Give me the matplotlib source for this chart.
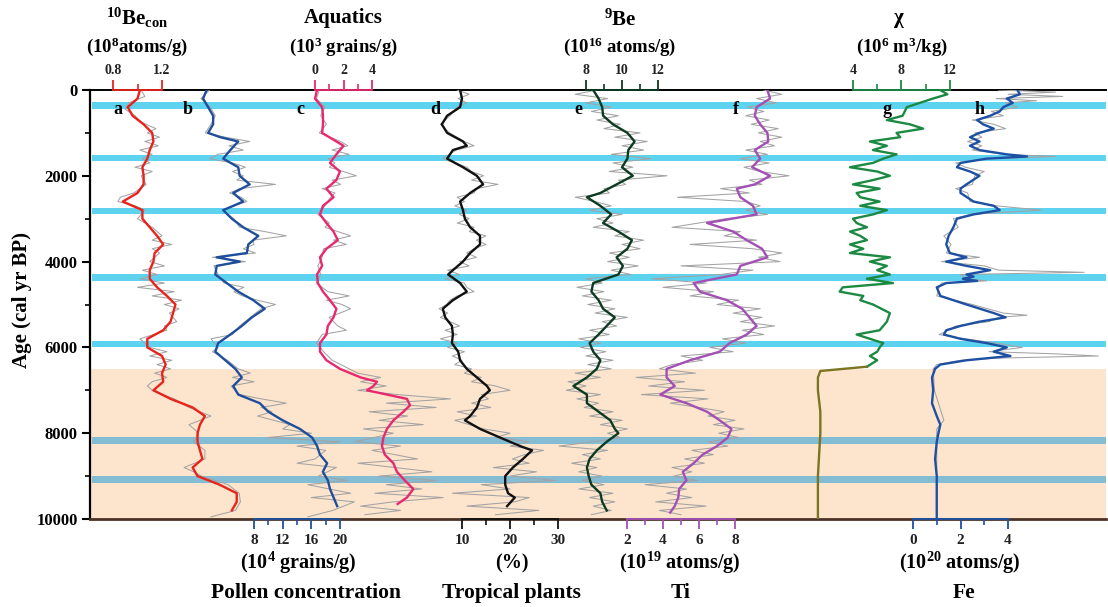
import matplotlib.pyplot as plt

plt.rcParams['font.family'] = ['Liberation Serif', 'DejaVu Serif']
plt.rcParams['font.weight'] = 'bold'
plt.rcParams['mathtext.fontset'] = 'custom'
plt.rcParams['mathtext.rm'] = 'Liberation Serif:bold'
plt.rcParams['mathtext.bf'] = 'Liberation Serif:bold'
plt.rcParams['mathtext.it'] = 'Liberation Serif:bold:italic'
plt.rcParams['mathtext.default'] = 'bf'

# ---------------- data (age in cal yr BP) ----------------
a_age = [0,200,400,600,800,1000,1200,1400,1600,1800,2000,2200,2400,2600,2800,3000,3200,3400,3600,3800,
         4000,4200,4400,4600,4800,5000,5200,5400,5600,5800,6000,6200,6400,6600,6800,7000,7200,7400,7600,7800,
         8000,8200,8400,8600,8800,9000,9200,9400,9600,9800]
a_val = [1.02,1.00,0.92,0.96,1.05,1.12,1.13,1.10,1.08,1.04,1.05,1.05,1.00,0.88,1.04,1.04,1.10,1.16,1.21,1.14,
         1.13,1.10,1.10,1.16,1.24,1.31,1.29,1.27,1.21,1.08,1.08,1.20,1.23,1.20,1.21,1.13,1.27,1.45,1.55,1.51,
         1.49,1.49,1.51,1.53,1.45,1.49,1.67,1.81,1.81,1.77]
a_raw = [(0,1.03),(150,1.06),(300,0.93),(450,0.90),(600,0.98),(750,1.03),(900,1.15),(1000,1.08),(1100,1.18),
         (1200,1.06),(1300,1.17),(1400,1.02),(1500,1.12),(1600,1.04),(1700,1.10),(1800,0.98),(1900,1.12),
         (2000,1.03),(2200,1.07),(2400,0.97),(2500,0.86),(2600,0.84),(2700,0.98),(2800,1.06),(3000,1.00),
         (3200,1.12),(3400,1.20),(3500,1.12),(3600,1.28),(3700,1.12),(3800,1.18),(4000,1.10),(4100,1.22),
         (4200,1.04),(4300,1.16),(4400,1.02),(4500,1.22),(4600,1.00),(4700,1.30),(4800,1.12),(4900,1.36),
         (5000,1.22),(5100,1.34),(5200,1.26),(5400,1.32),(5500,1.22),(5600,1.24),(5800,1.02),(6000,1.10),
         (6100,1.24),(6200,1.10),(6300,1.28),(6400,1.16),(6500,1.27),(6600,1.14),(6700,1.24),(6800,1.12),
         (6900,1.08),(7000,1.12),(7200,1.30),(7400,1.42),(7600,1.60),(7800,1.42),(8000,1.50),(8200,1.46),
         (8400,1.55),(8600,1.55),(8800,1.38),(8900,1.46),(9000,1.52),(9200,1.74),(9400,1.83),(9600,1.84),
         (9800,1.80),(9950,1.60)]

b_age = [0,200,400,600,800,1000,1100,1200,1400,1600,1800,2000,2200,2400,2600,2800,3000,3200,3400,3600,
         3800,3900,4000,4100,4300,4500,4700,4900,5100,5300,5500,5700,5900,6100,6300,6500,6700,6900,7100,7300,
         7500,7700,7900,8100,8300,8500,8700,8900,9100,9300,9700]
b_val = [1.4,0.9,1.6,2.3,2.3,1.6,3.3,5.8,4.7,3.7,5.8,6.0,7.4,5.1,6.5,3.7,4.9,6.5,8.6,7.2,
         7.0,2.8,6.0,2.8,2.6,4.2,5.8,7.9,9.5,7.7,6.3,4.7,3.0,2.6,4.0,5.4,6.3,5.1,5.8,8.8,
         10.0,12.0,14.4,16.1,16.8,17.2,18.2,17.6,18.3,18.6,19.6]
b_raw = [(0,1.8),(200,0.6),(400,1.9),(600,2.6),(800,2.0),(1000,1.2),(1100,4.0),(1200,7.4),(1300,4.5),
         (1400,6.5),(1500,3.0),(1600,1.8),(1700,5.0),(1800,6.8),(1900,5.0),(2000,6.5),(2100,5.6),(2200,11.0),
         (2300,6.0),(2400,4.6),(2500,6.2),(2600,7.0),(2800,3.6),(3000,5.2),(3200,6.0),(3300,9.5),(3400,12.5),
         (3500,7.8),(3600,8.0),(3700,6.5),(3800,8.2),(3900,2.2),(4000,6.8),(4100,2.4),(4300,3.0),(4500,3.8),
         (4600,6.6),(4700,5.2),(4800,6.4),(4900,8.5),(5000,11.0),(5100,9.0),(5300,7.5),(5500,6.0),(5700,5.0),
         (5800,2.0),(6000,3.0),(6100,2.2),(6300,4.3),(6500,5.8),(6600,7.5),(6700,5.0),(6800,8.0),(6900,4.8),
         (7100,6.0),(7200,9.0),(7300,12.5),(7400,9.0),(7500,10.5),(7600,8.5),(7800,13.0),(7900,12.0),
         (8000,16.0),(8100,10.0),(8200,20.0),(8300,14.0),(8400,18.0),(8600,16.5),(8700,14.0),(8800,19.5),
         (9000,17.0),(9100,21.0),(9200,15.5),(9400,21.5),(9500,16.0),(9600,22.0),(9800,19.0),(9950,15.5)]

c_age = [0,200,400,600,800,1000,1200,1300,1500,1700,1900,2100,2300,2500,2700,2900,3100,3300,3500,3700,
         3900,4100,4300,4500,4700,4900,5100,5300,5500,5700,5900,6100,6300,6500,6700,6800,6900,7000,7200,7350,
         7500,7700,7900,8100,8300,8500,8700,8900,9100,9300,9500,9650]
c_val = [0.14,0.0,0.5,0.56,0.56,0.5,1.5,2.0,1.5,1.05,1.75,1.5,0.8,1.3,0.56,0.35,0.8,1.3,1.6,0.8,
         0.35,0.5,0.14,0.2,0.56,1.05,1.5,1.3,0.9,0.8,0.35,0.35,0.8,1.75,3.2,4.35,4.1,3.65,6.45,6.67,
         6.2,5.5,5.05,4.8,4.7,4.9,5.5,5.75,6.3,6.9,6.45,5.8]
c_raw = [(0,0.3),(200,0.1),(400,0.7),(600,0.4),(800,0.8),(1000,0.3),(1200,1.8),(1300,2.3),(1400,1.2),
         (1500,2.4),(1600,0.9),(1700,1.4),(1800,1.0),(1900,2.0),(2000,2.9),(2100,1.2),(2200,1.8),(2300,0.5),
         (2400,1.4),(2500,1.1),(2700,0.7),(2900,0.2),(3100,1.0),(3200,0.7),(3300,1.6),(3400,2.5),(3500,1.3),
         (3600,2.2),(3700,0.6),(3900,0.5),(4100,0.2),(4300,0.4),(4500,0.1),(4700,0.9),(4800,2.4),(4900,0.8),
         (5000,1.9),(5100,2.5),(5300,1.0),(5500,1.6),(5600,2.2),(5700,0.5),(5900,0.1),(6100,0.6),(6300,1.2),
         (6500,2.4),(6600,3.0),(6700,4.6),(6800,3.2),(6900,5.0),(7000,3.0),(7100,5.8),(7200,9.5),(7300,5.0),
         (7400,8.5),(7500,3.8),(7600,6.5),(7700,4.5),(7800,7.6),(7900,3.4),(8000,5.5),(8200,2.8),(8300,6.0),
         (8400,4.0),(8600,7.2),(8700,3.0),(8900,8.2),(9000,4.5),(9100,8.5),(9200,5.0),(9300,7.5),(9400,4.2),
         (9500,9.0),(9600,5.5),(9700,3.2),(9800,6.0),(9900,3.5)]

d_age = [0,200,400,600,800,1000,1200,1300,1400,1600,1800,2000,2200,2400,2600,2800,3000,3200,3400,3600,
         3800,4000,4200,4300,4500,4700,4900,5100,5300,5500,5700,5900,6100,6300,6500,6700,6900,7000,7200,7400,
         7600,7700,7900,8100,8300,8400,8600,8800,9000,9200,9400,9500,9700]
d_val = [9.6,10.0,9.6,6.9,5.8,6.9,10.2,11.0,8.1,6.9,10.2,13.1,14.4,11.7,9.6,10.2,10.6,11.7,13.75,13.75,
         11.7,10.2,8.1,7.1,9.6,11.0,8.1,6.0,6.5,7.9,8.1,7.9,9.2,9.6,11.0,13.1,15.2,15.8,13.75,13.1,
         11.7,10.6,13.75,17.9,22.1,24.6,22.7,20.6,19.0,19.0,19.6,21.0,19.4]
d_raw = [(0,9.0),(100,11.5),(200,9.2),(300,11.0),(400,9.0),(600,7.5),(800,5.5),(1000,7.4),(1200,10.5),
         (1300,12.5),(1400,8.8),(1600,6.0),(1700,8.5),(1800,11.0),(1900,12.0),(2000,14.5),(2100,12.0),
         (2200,17.5),(2300,13.0),(2400,12.5),(2500,9.0),(2600,10.5),(2700,8.5),(2800,11.0),(2900,9.5),
         (3000,11.5),(3100,9.0),(3200,12.5),(3300,11.5),(3400,15.0),(3500,13.0),(3600,15.0),(3700,12.5),
         (3800,11.0),(3900,13.0),(4000,9.5),(4100,11.5),(4200,7.0),(4300,9.5),(4400,6.5),(4500,10.5),
         (4600,11.0),(4700,12.5),(4800,9.0),(4900,7.5),(5000,6.8),(5100,5.2),(5200,7.0),(5300,5.5),(5400,7.5),
         (5500,9.5),(5600,6.5),(5700,9.0),(5800,5.5),(5900,9.0),(6000,7.0),(6100,10.5),(6200,8.0),(6300,10.0),
         (6400,8.5),(6500,12.0),(6600,10.5),(6700,14.0),(6800,12.0),(6900,17.0),(7000,20.0),(7100,14.0),
         (7200,15.5),(7300,12.0),(7400,16.0),(7500,9.0),(7600,13.0),(7700,8.5),(7800,11.5),(7900,14.5),
         (8000,20.0),(8100,17.0),(8200,24.0),(8300,20.0),(8400,27.0),(8500,23.0),(8600,20.5),(8700,24.0),
         (8800,16.5),(8900,25.5),(9000,20.0),(9100,29.5),(9200,14.0),(9300,20.0),(9400,8.0),(9500,24.0),
         (9600,21.0),(9700,11.0),(9800,26.0),(9900,17.0)]

e_age = [0,200,400,600,800,1000,1200,1400,1600,1800,2000,2200,2400,2500,2700,2900,3100,3300,3500,3700,
         3900,4100,4300,4500,4700,4900,5100,5300,5500,5700,5900,6100,6300,6500,6700,6900,7100,7300,7500,7700,
         7900,8000,8200,8400,8600,8800,9000,9200,9400,9600,9800]
e_val = [8.4,8.7,8.9,8.95,9.5,10.3,10.7,10.35,10.3,10.0,10.6,9.7,8.8,8.05,8.8,9.4,8.95,9.8,10.55,10.3,
         9.7,10.05,9.8,8.4,8.3,8.7,8.95,9.6,9.15,8.7,8.2,8.4,8.8,8.6,8.05,7.3,8.05,8.05,8.7,9.35,
         9.6,9.8,9.15,8.6,8.2,8.05,8.15,8.3,8.8,8.9,9.15]
e_raw = [(0,8.6),(100,7.4),(200,9.2),(300,8.0),(400,9.4),(500,8.3),(600,9.8),(700,8.6),(800,9.9),(900,9.0),
         (1000,11.0),(1100,9.6),(1200,11.4),(1300,10.0),(1400,11.2),(1500,9.4),(1600,11.6),(1700,9.5),
         (1800,10.6),(1900,9.3),(2000,12.5),(2100,9.8),(2200,10.2),(2300,9.0),(2400,9.3),(2500,7.4),(2600,8.5),
         (2700,9.4),(2800,8.2),(2900,10.0),(3000,8.6),(3100,9.5),(3200,8.4),(3300,10.4),(3400,9.6),(3500,11.2),
         (3600,10.0),(3700,11.0),(3800,9.3),(3900,10.4),(4000,9.2),(4100,10.9),(4200,9.4),(4300,10.5),
         (4400,8.0),(4500,8.9),(4600,7.5),(4700,9.0),(4800,7.8),(4900,9.4),(5000,8.1),(5100,9.6),(5200,8.5),
         (5300,10.3),(5400,8.9),(5500,9.7),(5600,8.2),(5700,9.3),(5800,7.6),(5900,8.8),(6000,7.7),(6100,9.1),
         (6200,8.0),(6300,9.5),(6400,8.1),(6500,9.4),(6600,7.4),(6700,8.8),(6800,7.0),(6900,8.0),(7000,6.9),
         (7100,8.8),(7200,7.5),(7300,8.7),(7400,7.9),(7500,9.5),(7600,8.2),(7700,10.0),(7800,8.8),(7900,10.3),
         (8000,9.2),(8100,9.9),(8200,8.4),(8300,6.5),(8400,9.2),(8500,7.8),(8600,8.8),(8700,7.2),(8800,8.6),
         (8900,7.6),(9000,8.9),(9100,7.8),(9200,9.0),(9300,7.6),(9400,9.5),(9500,8.2),(9600,9.6),(9700,8.4),
         (9800,9.4),(9900,8.3)]

f_age = [0,200,400,600,800,1000,1200,1400,1600,1800,2000,2200,2300,2500,2700,2900,3100,3300,3500,3700,
         3900,4100,4300,4500,4700,4900,5100,5300,5500,5700,5900,6100,6300,6500,6700,6900,7100,7300,7500,7700,
         7900,8100,8300,8500,8700,8900,9100,9300,9500,9700,9850]
f_val = [9.8,9.95,9.2,9.1,9.4,9.8,9.85,9.1,9.4,8.95,9.95,9.1,8.1,8.3,9.0,9.2,6.45,7.9,8.65,9.5,
         9.8,8.3,8.1,5.7,6.05,7.55,8.4,8.8,9.2,8.65,7.7,7.15,5.5,4.2,4.2,4.65,3.85,5.3,6.45,7.15,
         7.8,7.6,7.0,6.2,5.7,5.1,5.3,4.9,4.85,4.65,4.4]
f_raw = [(0,9.6),(100,10.6),(200,9.2),(300,10.3),(400,8.7),(500,9.6),(600,8.6),(700,9.9),(800,8.9),
         (900,10.4),(1000,9.3),(1100,10.6),(1200,9.4),(1300,10.2),(1400,8.6),(1500,9.8),(1600,8.3),(1700,9.9),
         (1800,8.5),(1900,9.4),(2000,11.0),(2100,8.8),(2200,9.5),(2300,7.2),(2400,8.8),(2500,4.8),(2600,8.6),
         (2700,9.4),(2800,8.6),(2900,9.8),(3000,7.5),(3100,6.0),(3200,4.5),(3300,8.3),(3400,7.4),(3500,9.2),
         (3600,5.5),(3700,9.0),(3800,10.6),(3900,9.3),(4000,10.5),(4100,5.0),(4200,9.0),(4300,7.2),(4400,3.4),
         (4500,6.4),(4600,4.0),(4700,6.8),(4800,5.5),(4900,8.2),(5000,7.0),(5100,9.4),(5200,7.9),(5300,9.5),
         (5400,8.3),(5500,10.2),(5600,8.4),(5700,9.6),(5800,7.3),(5900,8.6),(6000,6.6),(6100,7.9),(6200,5.0),
         (6300,6.2),(6400,4.5),(6500,3.8),(6600,5.8),(6700,2.5),(6800,5.2),(6900,3.2),(7000,6.3),(7100,2.8),
         (7200,6.5),(7300,4.4),(7400,6.0),(7500,7.4),(7600,6.5),(7700,8.0),(7800,6.8),(7900,8.5),(8000,7.1),
         (8100,8.2),(8200,6.5),(8300,7.6),(8400,5.6),(8500,6.8),(8600,5.2),(8700,6.3),(8800,4.5),(8900,5.6),
         (9000,4.6),(9100,5.9),(9200,3.0),(9300,5.3),(9400,4.2),(9500,5.6),(9600,3.6),(9700,6.4),(9800,3.8),
         (9900,5.0)]

g_age = [0,100,200,400,600,700,800,900,1000,1100,1200,1300,1400,1500,1600,1700,1800,1900,2000,2100,
         2200,2300,2400,2500,2600,2700,2800,2900,3000,3100,3200,3300,3400,3500,3600,3700,3800,3900,4000,4100,
         4200,4300,4400,4500,4600,4700,4800,4900,5000,5200,5400,5600,5700,5800,5900,6000,6100,6200,6300,6450,
         6550,6700,7000,7500,8000,8500,9000,9500,10000]
g_val = [11.2,11.8,10.6,8.45,8.1,6.8,8.7,9.8,7.6,7.9,5.4,6.8,5.65,7.6,6.5,5.65,3.75,6.0,7.05,5.65,
         4.0,6.2,4.3,4.6,6.2,4.6,6.8,5.65,4.0,4.3,5.15,3.75,4.6,5.15,3.75,4.85,3.75,7.05,5.4,6.8,
         6.0,7.05,5.15,7.3,3.15,2.9,4.85,4.6,5.65,7.05,6.8,6.2,4.3,5.4,6.5,6.2,6.0,5.4,6.0,5.15,
         1.3,1.1,1.1,1.3,1.3,1.2,1.1,1.1,1.1]

h_age = [0,100,200,300,400,500,600,700,800,900,1000,1100,1200,1300,1400,1500,1550,1600,1700,1800,
         1900,2000,2200,2300,2400,2600,2700,2800,2900,3000,3200,3400,3600,3800,3900,4000,4100,4200,4300,4350,
         4400,4450,4500,4600,4800,5000,5200,5300,5400,5500,5600,5700,5800,5900,6000,6100,6200,6300,6400,6500,
         6700,7000,7300,7600,7800,8000,8200,8600,9000,10000]
h_val = [4.4,4.5,3.95,4.2,3.8,3.65,3.25,2.7,2.95,3.4,2.8,2.4,2.8,2.4,2.8,3.95,4.8,3.1,2.0,1.85,
         2.4,2.8,2.25,2.0,2.0,2.55,3.4,3.65,2.55,1.85,1.7,1.5,1.4,1.55,2.25,1.4,2.25,3.25,2.25,2.55,
         2.1,2.7,1.4,1.0,1.15,2.25,3.4,3.9,2.8,2.0,1.4,1.3,2.0,3.1,3.95,3.4,4.1,2.25,1.15,0.93,
         0.8,0.85,0.8,1.0,1.15,1.07,1.0,0.93,1.0,1.0]
h_raw = [(0,3.6),(50,6.0),(100,4.0),(150,6.3),(200,3.5),(250,5.2),(300,3.9),(400,4.4),(500,3.3),(600,3.8),
         (700,2.5),(800,3.4),(900,3.9),(1000,2.6),(1100,2.9),(1200,2.3),(1300,2.9),(1400,2.5),(1500,3.8),
         (1550,6.0),(1600,3.2),(1700,1.8),(1800,2.2),(1900,3.0),(2000,2.6),(2200,2.5),(2300,1.8),(2400,2.3),
         (2600,2.4),(2700,3.5),(2800,5.4),(2900,2.4),(3000,1.7),(3200,1.9),(3400,1.3),(3600,1.6),(3800,1.4),
         (3900,2.8),(4000,1.2),(4100,3.0),(4200,3.6),(4250,7.2),(4300,2.0),(4400,2.3),(4450,3.1),(4500,1.2),
         (4600,1.1),(4800,1.0),(5000,2.5),(5200,3.8),(5250,4.8),(5300,3.6),(5400,3.2),(5500,1.8),(5600,1.5),
         (5700,1.1),(5800,2.2),(5900,3.5),(6000,4.6),(6100,3.2),(6150,6.0),(6200,7.8),(6250,3.5),(6300,2.0),
         (6400,1.0),(6500,0.85),(7000,0.9),(7700,1.3),(7900,1.0),(8500,1.0),(10000,1.0)]

band_ages = [370, 1585, 2820, 4380, 5920]
band_ages_low = [8180, 9070]
orange_start = 6510

# ---------------- figure ----------------
W, H = 1108, 607
fig = plt.figure(figsize=(W / 100, H / 100), dpi=100)
X0, X1, Y0, Y1 = 90, 1106, 90, 519
pos = [X0 / W, 1 - Y1 / H, (X1 - X0) / W, (Y1 - Y0) / H]


def ptext(x, y, s, **kw):
    fig.text(x / W, 1 - y / H, s, ha='center', va='center', **kw)


ax = fig.add_axes(pos)
ax.set_xlim(0, 1)
ax.set_ylim(10000, 0)
ax.axhspan(orange_start, 10000, color='#fde5cd', lw=0, zorder=0)
for b in band_ages:
    ax.axhspan(b - 80, b + 80, xmin=0.002, color='#5dd3f0', lw=0, zorder=1)
for b in band_ages_low:
    ax.axhspan(b - 80, b + 80, xmin=0.002, color='#84bcd3', lw=0, zorder=1)
ax.set_xticks([])
ax.set_yticks(range(0, 10001, 2000))
ax.set_yticks(range(1000, 10000, 2000), minor=True)
ax.tick_params(axis='y', which='major', length=6, width=1.5, labelsize=12, pad=3)
ax.tick_params(axis='y', which='minor', length=3.5, width=1.2)
ax.spines['right'].set_visible(False)
ax.spines['left'].set_linewidth(1.6)
ax.spines['top'].set_linewidth(1.4)
ax.spines['bottom'].set_linewidth(2)
ax.spines['bottom'].set_color('#4a3326')


def panel(name, ref_val, ref_px, ppu, side, bounds, major, minor, color,
          age, val, raw=None, lw=1.7):
    pa = fig.add_axes(pos, label=name)
    pa.set_xlim(ref_val - (ref_px - X0) / ppu, ref_val + (X1 - ref_px) / ppu)
    pa.set_ylim(10000, 0)
    pa.patch.set_visible(False)
    for s in pa.spines.values():
        s.set_visible(False)
    pa.set_yticks([])
    sp = pa.spines[side]
    sp.set_visible(True)
    sp.set_bounds(*bounds)
    sp.set_color(color)
    sp.set_linewidth(1.3)
    pa.set_xticks(major)
    pa.set_xticks(minor, minor=True)
    top = side == 'top'
    pa.tick_params(axis='x', which='both', top=top, labeltop=top, bottom=not top,
                   labelbottom=not top, color=color, labelcolor='#222222', direction='out')
    pa.tick_params(axis='x', which='major', length=7, width=1.3,
                   labelsize=10 if top else 11, pad=2 if top else 4)
    pa.tick_params(axis='x', which='minor', length=4, width=1.2)
    if raw is not None:
        pa.plot([r[1] for r in raw], [r[0] for r in raw], color='#a3a3a3', lw=0.75)
    pa.plot(val, age, color=color, lw=lw)
    return pa


panel('a', 0.8, 113, 122.5, 'top', (0.8, 1.2), [0.8, 1.2], [1.0], '#e8231c',
      a_age, a_val, a_raw)
panel('b', 8, 254, 7.17, 'bottom', (8, 20), [8, 12, 16, 20], [10, 14, 18], '#1f4f9c',
      b_age, b_val, b_raw)
panel('c', 0, 315, 14.25, 'top', (0, 4), [0, 2, 4], [1, 3], '#e8286f',
      c_age, c_val, c_raw)
panel('d', 10, 462, 4.8, 'bottom', (10, 30), [10, 20, 30], [15, 25], '#111111',
      d_age, d_val, d_raw)
panel('e', 8, 586, 18, 'top', (8, 12), [8, 10, 12], [9, 11], '#0c3a22',
      e_age, e_val, e_raw)
panel('f', 2, 627, 18, 'bottom', (2, 8), [2, 4, 6, 8], [3, 5, 7], '#a350b5',
      f_age, f_val, f_raw)
pg = panel('g', 4, 853, 12.1, 'top', (4, 12), [4, 8, 12], [6, 10], '#1c8a43',
           g_age[:60], g_val[:60])
pg.plot(g_val[59:], g_age[59:], color='#7b7422', lw=1.7)
panel('h', 0, 913, 23.75, 'bottom', (0, 4), [0, 2, 4], [1, 3], '#1d50a3',
      h_age, h_val, h_raw)

# ---------------- text ----------------
for lab, x in zip('abcdefgh', [118, 188, 300, 435, 578, 736, 887, 980]):
    ptext(x, 110, lab, fontsize=13)

ptext(137, 18, r'$^{10}$Be$_{con}$', fontsize=15)
ptext(137, 47, r'(10$^{8}$atoms/g)', fontsize=13.5)
ptext(343, 18, 'Aquatics', fontsize=15)
ptext(343, 47, r'(10$^{3}$ grains/g)', fontsize=13.5)
ptext(620, 20, r'$^{9}$Be', fontsize=15)
ptext(620, 47, r'(10$^{16}$ atoms/g)', fontsize=13.5)
ptext(899, 18, 'χ', fontsize=15)
ptext(902, 47, r'(10$^{6}$ m$^{3}$/kg)', fontsize=13.5)

ptext(298, 563, r'(10$^{4}$ grains/g)', fontsize=14.5)
ptext(306, 593, 'Pollen concentration', fontsize=15.5)
ptext(512, 563, '(%)', fontsize=14.5)
ptext(511, 593, 'Tropical plants', fontsize=15.5)
ptext(680, 563, r'(10$^{19}$ atoms/g)', fontsize=14.5)
ptext(681, 593, 'Ti', fontsize=15.5)
ptext(960, 563, r'(10$^{20}$ atoms/g)', fontsize=14.5)
ptext(964, 593, 'Fe', fontsize=15.5)

ptext(22, 300, 'Age (cal yr BP)', fontsize=15, rotation=90)

fig.savefig('out.png', dpi=100)
